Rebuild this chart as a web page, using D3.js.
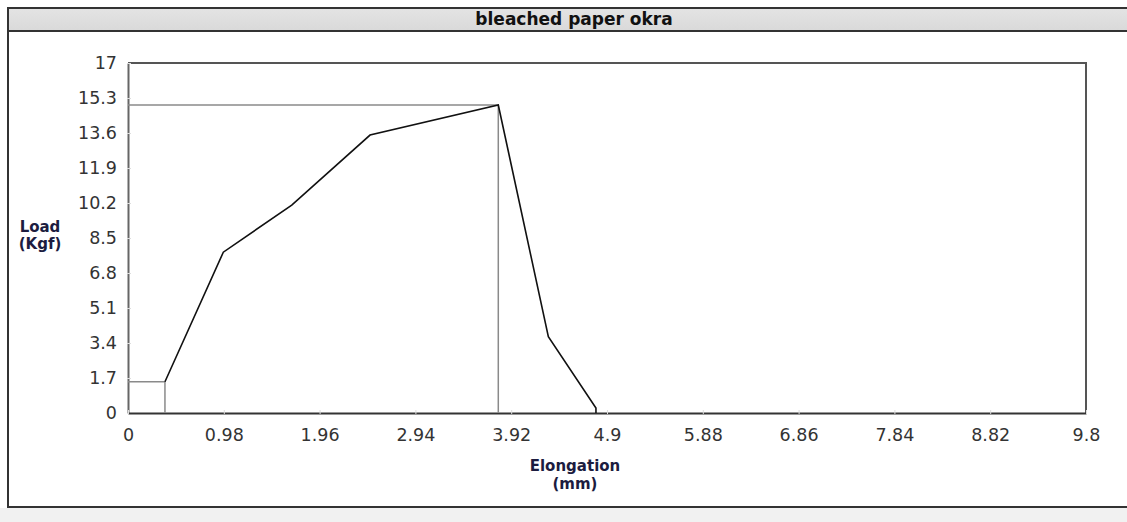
<!DOCTYPE html>
<html>
<head>
<meta charset="utf-8">
<script src="https://cdn.jsdelivr.net/npm/d3@7"></script>
<style>
  body { margin: 0; background: #fff; }
  svg { display: block; }
</style>
</head>
<body>
<svg></svg>
<script>
// load / elongation curve
const elongation = [0.378, 0.975, 1.675, 2.476, 3.788, 4.30, 4.787, 4.787]
const load = [1.52, 7.81, 10.10, 13.50, 14.96, 3.71, 0.24, 0]

const xTicks = [0, 0.98, 1.96, 2.94, 3.92, 4.9, 5.88, 6.86, 7.84, 8.82, 9.8]
const yTicks = [0, 1.7, 3.4, 5.1, 6.8, 8.5, 10.2, 11.9, 13.6, 15.3, 17]

const title = 'bleached paper okra'
const yTitle = ['Load', '(Kgf)']
const xTitle = ['Elongation', '(mm)']

const width = 1127
const height = 522
const pd = { top: 63, left: 128, right: 1086, bottom: 413 }
const font = 'DejaVu Sans, Verdana, sans-serif'

const pts = elongation.map((v, i) => ({ x: v, y: load[i] }))

const svg = d3.select('svg')
  .attr('width', width)
  .attr('height', height)

const defs = svg.append('defs')
const grad = defs.append('linearGradient')
  .attr('id', 'bar')
  .attr('x1', 0).attr('x2', 0).attr('y1', 0).attr('y2', 1)
grad.append('stop').attr('offset', '0%').attr('stop-color', '#e4e4e4')
grad.append('stop').attr('offset', '100%').attr('stop-color', '#d9d9d9')

// outer panel
svg.append('rect')
  .attr('x', 0).attr('y', 508)
  .attr('width', width).attr('height', height - 508)
  .attr('fill', '#f1f1f1')

svg.append('rect')
  .attr('x', 8).attr('y', 8)
  .attr('width', width + 20).attr('height', 23)
  .attr('fill', 'url(#bar)')

svg.append('rect')
  .attr('x', 8).attr('y', 8)
  .attr('width', width + 20).attr('height', 499)
  .attr('fill', 'none')
  .attr('stroke', '#333')
  .attr('stroke-width', 2)

svg.append('line')
  .attr('x1', 8).attr('x2', width)
  .attr('y1', 31).attr('y2', 31)
  .attr('stroke', '#333')
  .attr('stroke-width', 2)

svg.append('text')
  .attr('x', 574).attr('y', 25)
  .attr('text-anchor', 'middle')
  .attr('font-family', font)
  .attr('font-weight', 'bold')
  .attr('font-size', 17)
  .attr('fill', '#111')
  .text(title)

const x = d3.scaleLinear()
  .domain([0, 9.8])
  .range([pd.left, pd.right])

const y = d3.scaleLinear()
  .domain([0, 17])
  .range([pd.bottom, pd.top])

// plot frame (top / right)
svg.append('path')
  .attr('d', `M${pd.left},${pd.top}H${pd.right}V${pd.bottom}`)
  .attr('fill', 'none')
  .attr('stroke', '#555')
  .attr('stroke-width', 2)

const ya = svg.append('g')
  .attr('transform', `translate(${pd.left},0)`)
  .call(d3.axisLeft(y).tickValues(yTicks).tickFormat(d => d).tickSize(0).tickPadding(11))
ya.select('.domain').attr('stroke', '#666').attr('stroke-width', 2)

const xa = svg.append('g')
  .attr('transform', `translate(0,${pd.bottom})`)
  .call(d3.axisBottom(x).tickValues(xTicks).tickFormat(d => d).tickSize(0).tickPadding(16))
xa.select('.domain').attr('stroke', '#333').attr('stroke-width', 2)

svg.selectAll('.tick text')
  .attr('font-family', font)
  .attr('font-size', 17.5)
  .attr('fill', '#333')

// small notches on the axes
xa.selectAll('.tick').append('line')
  .attr('y1', -3).attr('y2', 1)
  .attr('stroke', '#ddd')
ya.selectAll('.tick').append('line')
  .attr('x1', -1).attr('x2', 3)
  .attr('stroke', '#ddd')

// axis titles
svg.append('text')
  .attr('font-family', font)
  .attr('font-weight', 'bold')
  .attr('font-size', 15)
  .attr('fill', '#1c1c40')
  .attr('text-anchor', 'middle')
  .selectAll('tspan')
  .data(yTitle)
  .join('tspan')
  .attr('x', 40)
  .attr('y', (d, i) => 232 + i * 17)
  .text(d => d)

svg.append('text')
  .attr('font-family', font)
  .attr('font-weight', 'bold')
  .attr('font-size', 15)
  .attr('fill', '#1c1c40')
  .attr('text-anchor', 'middle')
  .selectAll('tspan')
  .data(xTitle)
  .join('tspan')
  .attr('x', 575)
  .attr('y', (d, i) => 471 + i * 18)
  .text(d => d)

// guide lines at first point and at peak load
const peak = pts.reduce((a, b) => (b.y > a.y ? b : a))
const guides = [pts[0], peak]
svg.append('g')
  .selectAll('path')
  .data(guides)
  .join('path')
  .attr('d', p => `M${pd.left},${y(p.y)}H${x(p.x)}V${pd.bottom}`)
  .attr('fill', 'none')
  .attr('stroke', '#8a8a8a')
  .attr('stroke-width', 1.5)

svg.append('path')
  .datum(pts)
  .attr('d', d3.line().x(p => x(p.x)).y(p => y(p.y)))
  .attr('fill', 'none')
  .attr('stroke', '#111')
  .attr('stroke-width', 1.6)
</script>
</body>
</html>
